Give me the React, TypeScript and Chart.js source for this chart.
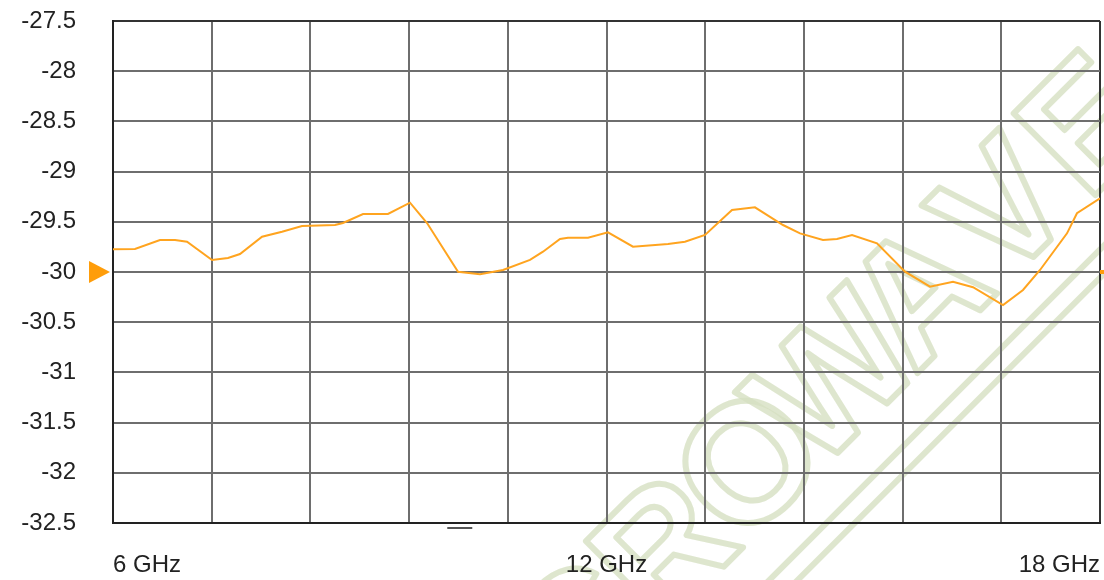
import React, { useEffect, useRef } from "react";
import { Chart, registerables } from "chart.js";

Chart.register(...registerables);

// Frequency (GHz) and level (dB)
const freqGHz = [
  6.0, 6.267, 6.571, 6.754, 6.9, 7.204, 7.398, 7.544, 7.812, 8.055, 8.298, 8.699,
  8.796, 9.04, 9.343, 9.611, 9.818, 10.195, 10.462, 10.742, 11.07, 11.228, 11.435,
  11.532, 11.775, 12.018, 12.322, 12.748, 12.954, 13.198, 13.526, 13.805, 14.146,
  14.353, 14.632, 14.802, 14.985, 15.289, 15.629, 15.933, 16.213, 16.456, 16.821,
  17.064, 17.271, 17.599, 17.72, 18.0,
];
const levelDb = [
  -29.774, -29.771, -29.681, -29.681, -29.698, -29.88, -29.861, -29.821, -29.648,
  -29.599, -29.542, -29.532, -29.512, -29.422, -29.422, -29.31, -29.512, -29.997,
  -30.023, -29.98, -29.88, -29.798, -29.671, -29.658, -29.658, -29.605, -29.748,
  -29.721, -29.698, -29.631, -29.382, -29.356, -29.532, -29.615, -29.681, -29.671,
  -29.631, -29.714, -29.997, -30.146, -30.097, -30.152, -30.329, -30.179, -29.98,
  -29.615, -29.415, -29.266,
];

const yMin = -32.5;
const yMax = -27.5;
const yStep = 0.5;
const xMin = 6;
const xMax = 18;
const xStep = 1.2;
const xLabelValues = [6, 12, 18];
const xLabelTexts = ["6 GHz", "12 GHz", "18 GHz"];
const refLevelDb = -30;
const bottomMarkerGHz = 10.21;
const watermarkLetters = ["M", "I", "C", "R", "O", "W", "A", "V", "E"];

const FONT = '"Liberation Sans", Arial, sans-serif';

const watermarkPlugin = {
  id: "watermark",
  beforeDraw(chart: any) {
    const ctx = chart.ctx as CanvasRenderingContext2D;
    const ang = (-45 * Math.PI) / 180;
    const ux = Math.cos(ang);
    const uy = Math.sin(ang);
    const nx = -uy;
    const ny = ux;
    const cx0 = 670;
    const cy0 = 555;
    const spacing = 120;
    const rIndex = 3;
    ctx.save();
    ctx.strokeStyle = "rgba(214,224,194,0.8)";
    ctx.lineWidth = 6;
    ctx.lineJoin = "round";
    ctx.font = `bold 168px ${FONT}`;
    ctx.textAlign = "center";
    ctx.textBaseline = "middle";
    watermarkLetters.forEach((ch, i) => {
      const k = i - rIndex;
      const x = cx0 + k * spacing * ux;
      const y = cy0 + k * spacing * uy;
      ctx.save();
      ctx.translate(x, y);
      ctx.rotate(ang);
      ctx.strokeText(ch, 0, 0);
      ctx.restore();
    });
    [88, 108].forEach((d) => {
      const bx = cx0 + d * nx;
      const by = cy0 + d * ny;
      ctx.beginPath();
      ctx.moveTo(bx - 900 * ux, by - 900 * uy);
      ctx.lineTo(bx + 900 * ux, by + 900 * uy);
      ctx.stroke();
    });
    ctx.restore();
  },
};

const markerPlugin = {
  id: "markers",
  afterDraw(chart: any) {
    const ctx = chart.ctx as CanvasRenderingContext2D;
    const { left, right, bottom } = chart.chartArea;
    const yRef = chart.scales.y.getPixelForValue(refLevelDb);
    ctx.save();
    ctx.fillStyle = "#FF9D0A";
    ctx.beginPath();
    ctx.moveTo(left - 24, yRef - 11);
    ctx.lineTo(left - 3, yRef);
    ctx.lineTo(left - 24, yRef + 11);
    ctx.closePath();
    ctx.fill();
    ctx.fillRect(right, yRef - 2, 4, 4);
    const xm = chart.scales.x.getPixelForValue(bottomMarkerGHz);
    ctx.fillStyle = "#555";
    ctx.fillRect(xm - 12, bottom + 4, 25, 2);
    ctx.restore();
  },
};

export default function App() {
  const canvasRef = useRef<HTMLCanvasElement>(null);

  useEffect(() => {
    const canvas = canvasRef.current;
    if (!canvas) return;
    const chart = new Chart(canvas, {
      type: "line",
      data: {
        datasets: [
          {
            data: freqGHz.map((f, i) => ({ x: f, y: levelDb[i] })),
            borderColor: "#FFA41F",
            borderWidth: 2,
            pointRadius: 0,
            tension: 0,
            fill: false,
          },
        ],
      },
      options: {
        responsive: false,
        animation: false,
        devicePixelRatio: 1,
        layout: { padding: { top: 21, right: 4, left: 0, bottom: 0 } },
        plugins: { legend: { display: false }, tooltip: { enabled: false } },
        scales: {
          x: {
            type: "linear",
            min: xMin,
            max: xMax,
            afterFit: (s: any) => {
              s.height = 57;
              s.paddingLeft = 0;
              s.paddingRight = 0;
            },
            ticks: {
              stepSize: xStep,
              autoSkip: false,
              maxRotation: 0,
              align: "inner",
              padding: 28,
              color: "#222",
              font: { family: FONT, size: 24 },
              callback: (v: any) => {
                const idx = xLabelValues.findIndex((l) => Math.abs(l - Number(v)) < 1e-6);
                return idx >= 0 ? xLabelTexts[idx] : "";
              },
            },
            grid: {
              color: (c: any) =>
                c.tick && Math.abs(c.tick.value - xMax) < 1e-6 ? "#333" : "#6e6e6e",
              lineWidth: 2,
              drawTicks: false,
            },
            border: { display: true, color: "#222", width: 2 },
          },
          y: {
            type: "linear",
            min: yMin,
            max: yMax,
            afterFit: (s: any) => {
              s.width = 113;
              s.paddingTop = 0;
              s.paddingBottom = 0;
            },
            ticks: {
              stepSize: yStep,
              padding: 37,
              color: "#222",
              font: { family: FONT, size: 24 },
              callback: (v: any) => String(Number(Number(v).toFixed(1))),
            },
            grid: {
              color: (c: any) =>
                c.tick && Math.abs(c.tick.value - yMax) < 1e-6 ? "#333" : "#6e6e6e",
              lineWidth: 2,
              drawTicks: false,
            },
            border: { display: true, color: "#222", width: 2 },
          },
        },
      },
      plugins: [watermarkPlugin, markerPlugin],
    });
    return () => chart.destroy();
  }, []);

  return (
    <div
      style={{
        position: "absolute",
        left: 0,
        top: 0,
        width: 1104,
        height: 580,
        background: "#fff",
      }}
    >
      <canvas ref={canvasRef} width={1104} height={580} />
    </div>
  );
}
